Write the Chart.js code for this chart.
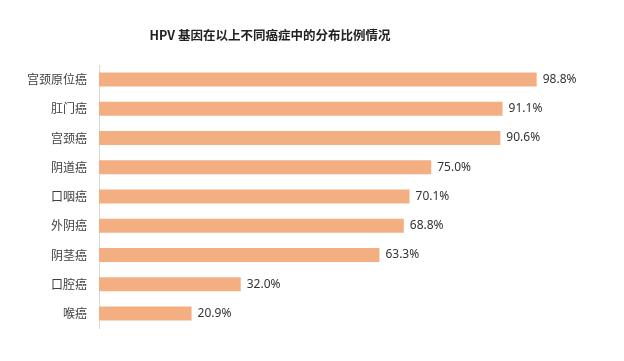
<!DOCTYPE html>
<html><head><meta charset="utf-8">
<script src="https://cdn.jsdelivr.net/npm/chart.js@4/dist/chart.umd.min.js"></script>
<style>html,body{margin:0;padding:0;background:#fff}#wrap{width:624px;height:361px;position:relative}</style>
</head><body><div id="wrap"><canvas id="c" width="624" height="361"></canvas></div>
<script>
const titleText = 'HPV 基因在以上不同癌症中的分布比例情况';
const categories = ['宫颈原位癌','肛门癌','宫颈癌','阴道癌','口咽癌','外阴癌','阴茎癌','口腔癌','喉癌'];
const values = [98.8, 91.1, 90.6, 75.0, 70.1, 68.8, 63.3, 32.0, 20.9];
const valueLabels = ['98.8%','91.1%','90.6%','75.0%','70.1%','68.8%','63.3%','32.0%','20.9%'];

const titlePlugin = {
  id:'customTitle',
  afterDraw(chart){
    const ctx = chart.ctx;
    ctx.save();
    ctx.font = 'bold 12.5px "Noto Sans CJK SC"';
    ctx.fillStyle = '#222';
    ctx.textAlign = 'center';
    ctx.textBaseline = 'middle';
    ctx.fillText(titleText, 270, 35);
    ctx.restore();
  }
};
const labelPlugin = {
  id:'valueLabels',
  afterDatasetsDraw(chart){
    const ctx = chart.ctx;
    const meta = chart.getDatasetMeta(0);
    ctx.save();
    ctx.font = '12px "Noto Sans"';
    ctx.fillStyle = '#333';
    ctx.textAlign = 'left';
    ctx.textBaseline = 'middle';
    meta.data.forEach((bar,i)=>{
      ctx.fillText(valueLabels[i], bar.x + 6, bar.y);
    });
    ctx.restore();
  }
};
const bgPlugin = {
  id:'bg',
  beforeDraw(chart){
    const ctx = chart.ctx; ctx.save(); ctx.fillStyle='#fff'; ctx.fillRect(0,0,chart.width,chart.height); ctx.restore();
  }
};

new Chart(document.getElementById('c'), {
  type:'bar',
  data:{
    labels: categories,
    datasets:[{data: values, backgroundColor:'#F3AF82', borderWidth:0, barPercentage:0.96, categoryPercentage:0.5}]
  },
  options:{
    indexAxis:'y',
    responsive:false,
    animation:false,
    layout:{padding:{left:0, right:82, top:65, bottom:33}},
    plugins:{legend:{display:false}, title:{display:false}, tooltip:{enabled:false}},
    scales:{
      x:{display:false, min:0, max:100},
      y:{
        grid:{display:false, drawTicks:false},
        border:{display:true, color:'#d9d9d9', width:1},
        ticks:{padding:12, color:'#404040', font:{family:'"Noto Sans CJK SC"', size:12}},
        afterFit(scale){ scale.width = 99; }
      }
    }
  },
  plugins:[bgPlugin, titlePlugin, labelPlugin]
});
</script></body></html>
